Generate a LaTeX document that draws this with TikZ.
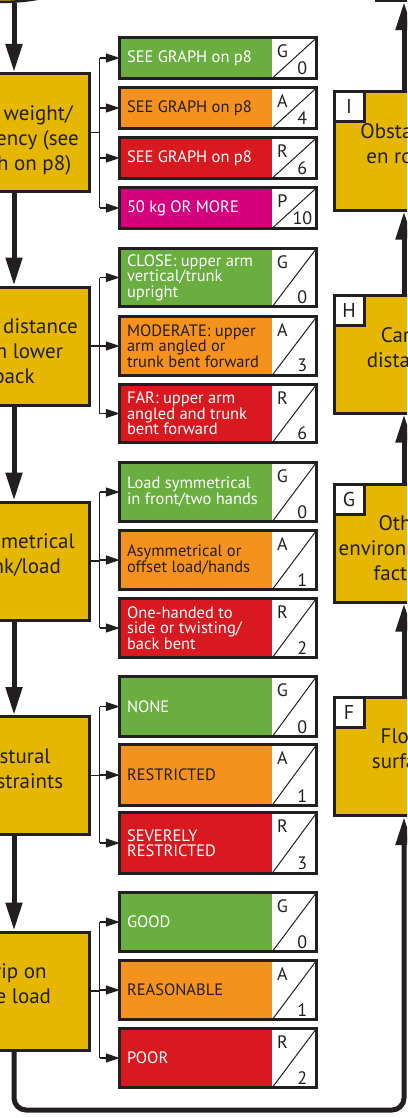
\documentclass[tikz,border=0pt]{standalone}
\usepackage{fontspec}
\setmainfont{PT Sans}
\usetikzlibrary{positioning,arrows.meta,shapes.geometric}

\definecolor{loadyellow}{HTML}{E5B700}
\definecolor{scoregreen}{HTML}{69AE3F}
\definecolor{scoreamber}{HTML}{F5921E}
\definecolor{scorered}{HTML}{D8191F}
\definecolor{scorepurple}{HTML}{D5007E}
\definecolor{inkdark}{HTML}{231F20}

\newcommand\scorefont{\fontsize{18}{18}\selectfont}

% one coloured answer box with its letter/score cell
\newcommand\scorebox[7]{%
  \node[#4, minimum height=#3] (#1) at (196,#2) {#5};
  \node[scorecell, minimum height=#3, right=0pt of #1] (#1c) {};
  \draw[inkdark, line width=1pt] (#1c.south west) -- (#1c.north east);
  \node[anchor=north, inner sep=0pt, xshift=-12pt, yshift=-7pt, font=\scorefont, text=inkdark] (#1l) at (#1c.north) {#6};
  \node[anchor=south, inner sep=0pt, xshift=8pt, yshift=3pt, font=\scorefont, text=inkdark] (#1n) at (#1c.south) {#7};
  \draw[inkdark, line width=3pt] (#1.north west) rectangle (#1c.south east);
}

\tikzset{
  riskbox/.style={draw=inkdark, line width=3pt, fill=loadyellow, minimum width=150pt, minimum height=118pt},
  routebox/.style={riskbox, minimum width=140pt},
  risktext/.style={inner sep=0pt, align=center, text=inkdark, font=\fontsize{21}{25}\selectfont},
  lettertab/.style={draw=inkdark, line width=3pt, fill=white, minimum size=30pt, inner sep=0pt,
    anchor=north west, text=inkdark, font=\fontsize{20}{20}\selectfont},
  band/.style={minimum width=152pt, text width=138pt, inner xsep=7pt, inner ysep=0pt,
    align=flush left, font=\fontsize{16.5}{15.5}\selectfont},
  gband/.style={band, fill=scoregreen, text=white},
  aband/.style={band, fill=scoreamber, text=inkdark},
  rband/.style={band, fill=scorered, text=white},
  pband/.style={band, fill=scorepurple, text=white},
  scorecell/.style={fill=white, minimum width=44pt, inner sep=0pt},
  flow/.style={draw=inkdark, line width=5pt, -{Triangle[length=28pt,width=16pt]}},
  branch/.style={draw=inkdark, line width=1.3pt},
  branchto/.style={branch, -{Triangle[length=14pt,width=9pt]}},
}

\begin{document}
\begin{tikzpicture}[x=1pt, y=-1pt]
  \useasboundingbox (0,0) rectangle (407,1118);
  \clip (0,0) rectangle (407,1118);

  % start and end of the route
  \node[ellipse, draw=inkdark, line width=2.5pt, fill=loadyellow, minimum width=160pt, minimum height=54pt] (start) at (0,-25) {};
  \node[draw=inkdark, line width=2.5pt, minimum width=188pt, minimum height=80pt] (total) at (470,-39.2) {};

  % left column
  \node[riskbox] (lw1) at (14,132.5) {};
  \node[riskbox] (lw2) at (14,346) {};
  \node[riskbox] (lw3) at (14,561) {};
  \node[riskbox] (lw4) at (14,775.5) {};
  \node[riskbox] (lw5) at (14,991) {};
  \node[risktext, below=33pt of lw1.north] (lw1t) {Load weight/\\frequency (see\\graph on p8)};
  \node[risktext, below=33pt of lw2.north] (lw2t) {Hand distance\\from lower\\back};
  \node[risktext, below=33pt of lw3.north] (lw3t) {Asymmetrical\\trunk/load};
  \node[risktext, below=33pt of lw4.north] (lw4t) {Postural\\constraints};
  \node[risktext, below=33pt of lw5.north] (lw5t) {Grip on\\the load};

  % right column
  \node[routebox] (rbI) at (404,151) {};
  \node[routebox] (rbH) at (404,354) {};
  \node[routebox] (rbG) at (404,543) {};
  \node[routebox] (rbF) at (404,756.5) {};
  \node[risktext, below=33pt of rbI.north] (rbIt) {Obstacles\\en route};
  \node[risktext, below=34pt of rbH.north] (rbHt) {Carry\\distance};
  \node[risktext, below=33pt of rbG.north] (rbGt) {Other\\environmental\\factors};
  \node[risktext, below=33pt of rbF.north] (rbFt) {Floor\\surface};
  \node[lettertab] (tabI) at (rbI.north west) {I};
  \node[lettertab] (tabH) at (rbH.north west) {H};
  \node[lettertab] (tabG) at (rbG.north west) {G};
  \node[lettertab] (tabF) at (rbF.north west) {F};

  % answer boxes
  \scorebox{s11}{58}{40}{gband}{SEE GRAPH on p8}{G}{0}
  \scorebox{s12}{108}{40}{aband}{SEE GRAPH on p8}{A}{4}
  \scorebox{s13}{158}{40}{rband}{SEE GRAPH on p8}{R}{6}
  \scorebox{s14}{208}{40}{pband}{50 kg OR MORE}{P}{10}

  \scorebox{s21}{277.5}{58}{gband}{CLOSE: upper arm\\vertical/trunk\\upright}{G}{0}
  \scorebox{s22}{346}{58}{aband}{MODERATE: upper\\arm angled or\\trunk bent forward}{A}{3}
  \scorebox{s23}{413.5}{58}{rband}{FAR: upper arm\\angled and trunk\\bent forward}{R}{6}

  \scorebox{s31}{492}{59}{gband}{Load symmetrical\\in front/two hands}{G}{0}
  \scorebox{s32}{560}{59}{aband}{Asymmetrical or\\offset load/hands}{A}{1}
  \scorebox{s33}{628}{59}{rband}{One-handed to\\side or twisting/\\back bent}{R}{2}

  \scorebox{s41}{706.5}{60}{gband}{NONE}{G}{0}
  \scorebox{s42}{775}{60}{aband}{RESTRICTED}{A}{1}
  \scorebox{s43}{843}{60}{rband}{SEVERELY\\RESTRICTED}{R}{3}

  \scorebox{s51}{922}{59}{gband}{GOOD}{G}{0}
  \scorebox{s52}{990}{59}{aband}{REASONABLE}{A}{1}
  \scorebox{s53}{1058}{59}{rband}{POOR}{R}{2}

  % branches
  \draw[branch] (lw1.east) -- ++(9,0) coordinate (j1);
  \draw[branch] (j1 |- s11.west) -- (j1 |- s14.west);
  \foreach \b in {s11,s12,s13,s14}
    \draw[branchto] (j1 |- \b.west) -- (\b.west);

  \draw[branch] (lw2.east) -- ++(9,0) coordinate (j2);
  \draw[branch] (j2 |- s21.west) -- (j2 |- s23.west);
  \foreach \b in {s21,s22,s23}
    \draw[branchto] (j2 |- \b.west) -- (\b.west);

  \draw[branch] (lw3.east) -- ++(9,0) coordinate (j3);
  \draw[branch] (j3 |- s31.west) -- (j3 |- s33.west);
  \foreach \b in {s31,s32,s33}
    \draw[branchto] (j3 |- \b.west) -- (\b.west);

  \draw[branch] (lw4.east) -- ++(9,0) coordinate (j4);
  \draw[branch] (j4 |- s41.west) -- (j4 |- s43.west);
  \foreach \b in {s41,s42,s43}
    \draw[branchto] (j4 |- \b.west) -- (\b.west);

  \draw[branch] (lw5.east) -- ++(9,0) coordinate (j5);
  \draw[branch] (j5 |- s51.west) -- (j5 |- s53.west);
  \foreach \b in {s51,s52,s53}
    \draw[branchto] (j5 |- \b.west) -- (\b.west);

  % main route
  \draw[flow] (lw1.north |- start.south) -- (lw1.north);
  \draw[flow] (lw1.south) -- (lw2.north);
  \draw[flow] (lw2.south) -- (lw3.north);
  \draw[flow] (lw3.south) -- (lw4.north);
  \draw[flow] (lw4.south) -- (lw5.north);
  \coordinate (loopl) at (14,1110);
  \coordinate (loopr) at (404,1110);
  \draw[flow, rounded corners=12pt] (lw5.south) -- (loopl) -- (loopr) -- (rbF.south);
  \draw[flow] (rbF.north) -- (rbG.south);
  \draw[flow] (rbG.north) -- (rbH.south);
  \draw[flow] (rbH.north) -- (rbI.south);
  \draw[flow] (rbI.north) -- (rbI.north |- total.south);
\end{tikzpicture}
\end{document}
